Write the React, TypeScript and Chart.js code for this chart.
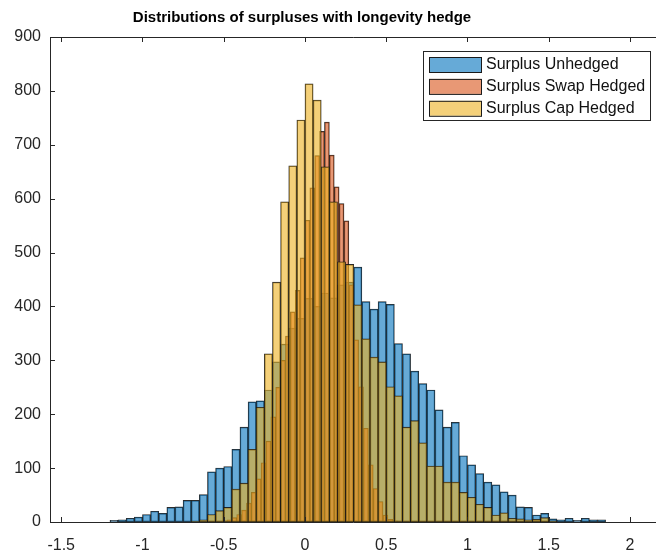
import { useEffect, useRef } from "react";
import { Chart, registerables } from "chart.js";

Chart.register(...registerables);

// Histogram bin layout (left edge of first bin, bin width)
const unhedgedStart = -1.2;
const unhedgedWidth = 0.05;
const swapStart = -0.54;
const swapWidth = 0.03;
const capStart = -0.7;
const capWidth = 0.05;

// Counts per bin
const unhedgedCounts = [
  3, 4, 7, 9, 14, 20, 16, 27, 28, 40, 40, 51, 93, 100, 103, 135, 176, 223, 225,
  245, 297, 330, 360, 378, 415, 400, 425, 416, 440, 445,
  473, 409, 395, 409, 404, 331, 312, 280, 257, 245, 208, 176, 185, 123, 106, 90,
  74, 69, 56, 50, 28, 27, 13, 16, 6, 4, 7, 3, 7, 4, 4,
];
const swapCounts = [
  1, 2, 4, 8, 14, 22, 35, 55, 80, 110, 150, 195, 250, 300, 345, 390, 430, 490,
  560, 620, 680, 725, 742, 681, 622, 591, 559, 440, 338, 251, 174, 106, 62, 38,
  13, 5, 2,
];
const capCounts = [
  1, 4, 14, 21, 27, 61, 72, 135, 213, 312, 445, 594, 661, 746, 813, 783, 659,
  594, 483, 478, 403, 340, 306, 297, 251, 234, 176, 188, 147, 104, 104, 74, 74,
  55, 46, 33, 27, 13, 17, 7, 6, 4, 5, 8, 2,
];

const xTicks = [-1.5, -1, -0.5, 0, 0.5, 1, 1.5, 2];
const yTicks = [0, 100, 200, 300, 400, 500, 600, 700, 800, 900];

const X_MIN = -1.569;
const X_MAX = 2.16;
const Y_MIN = 0;
const Y_MAX = 900;

const TITLE = "Distributions of surpluses with longevity hedge";
const FONT = "'Liberation Sans', Arial, Helvetica, sans-serif";
const AXIS_COLOR = "#262626";
const EDGE = "rgba(20,20,20,0.9)";

const SERIES = [
  { label: "Surplus Unhedged", rgb: "0,114,189" },
  { label: "Surplus Swap Hedged", rgb: "217,83,25" },
  { label: "Surplus Cap Hedged", rgb: "237,177,32" },
];

function binPoints(start: number, width: number, counts: number[]) {
  return counts.map((c, i) => ({
    x: Math.round((start + (i + 0.5) * width) * 10000) / 10000,
    y: c,
  }));
}

// Axes box with inward tick marks, title, and a boxed legend inside the plot
const framePlugin = {
  id: "frame",
  afterDatasetsDraw(chart: any) {
    const { ctx, chartArea } = chart;
    const { left, right, top, bottom } = chartArea;
    const xs = chart.scales.xU;
    const ys = chart.scales.y;
    ctx.save();
    ctx.strokeStyle = AXIS_COLOR;
    ctx.lineWidth = 1;
    ctx.beginPath();
    ctx.moveTo(left + 0.5, top + 0.5);
    ctx.lineTo(right + 2, top + 0.5);
    ctx.moveTo(left + 0.5, top);
    ctx.lineTo(left + 0.5, bottom + 0.5);
    ctx.lineTo(right + 2, bottom + 0.5);
    const tl = 5;
    xs.ticks.forEach((t: any) => {
      const px = Math.round(xs.getPixelForValue(t.value)) + 0.5;
      ctx.moveTo(px, bottom);
      ctx.lineTo(px, bottom - tl);
      ctx.moveTo(px, top);
      ctx.lineTo(px, top + tl);
    });
    ys.ticks.forEach((t: any) => {
      const py = Math.round(ys.getPixelForValue(t.value)) + 0.5;
      ctx.moveTo(left, py);
      ctx.lineTo(left + tl, py);
    });
    ctx.stroke();

    // title
    ctx.fillStyle = "#000000";
    ctx.font = `bold 15px ${FONT}`;
    ctx.textAlign = "center";
    ctx.textBaseline = "middle";
    ctx.fillText(TITLE, 302, 18);

    // legend
    const lx = 423;
    const ly = 51;
    const lw = 227;
    const lh = 69;
    ctx.fillStyle = "#ffffff";
    ctx.fillRect(lx, ly, lw, lh);
    ctx.strokeStyle = AXIS_COLOR;
    ctx.strokeRect(lx + 0.5, ly + 0.5, lw, lh);
    ctx.font = `16px ${FONT}`;
    ctx.textBaseline = "middle";
    ctx.textAlign = "left";
    chart.data.datasets.forEach((ds: any, i: number) => {
      const cy = ly + 13 + i * 21.9;
      ctx.fillStyle = ds.backgroundColor;
      ctx.fillRect(lx + 6, cy - 7, 52, 15);
      ctx.strokeStyle = "#1a1a1a";
      ctx.strokeRect(lx + 6.5, cy - 6.5, 52, 15);
      ctx.fillStyle = "#111111";
      ctx.fillText(ds.label, lx + 63, cy + 1);
    });
    ctx.restore();
  },
};

export default function App() {
  const ref = useRef<HTMLCanvasElement | null>(null);

  useEffect(() => {
    document.body.style.margin = "0";
    const canvas = ref.current;
    if (!canvas) return;

    const xScale = (display: boolean) => ({
      type: "linear" as const,
      min: X_MIN,
      max: X_MAX,
      offset: false,
      display,
      grid: { display: false, drawTicks: false, offset: false },
      border: { display: false },
      afterBuildTicks: (s: any) => {
        s.ticks = xTicks.map((v) => ({ value: v }));
      },
      afterFit: (s: any) => {
        s.height = display ? 28 : 0;
      },
      ticks: {
        padding: 14,
        color: AXIS_COLOR,
        font: { family: FONT, size: 16 },
        maxRotation: 0,
        autoSkip: false,
        callback: (v: any) => String(v),
      },
    });

    const barStyle = {
      borderColor: EDGE,
      borderWidth: 0.8,
      borderSkipped: false as const,
      barPercentage: 1,
      categoryPercentage: 1,
      grouped: false,
    };

    const chart = new Chart(canvas, {
      type: "bar",
      data: {
        datasets: [
          {
            ...barStyle,
            label: SERIES[0].label,
            data: binPoints(unhedgedStart, unhedgedWidth, unhedgedCounts),
            backgroundColor: `rgba(${SERIES[0].rgb},0.6)`,
            xAxisID: "xU",
            order: 3,
          },
          {
            ...barStyle,
            label: SERIES[1].label,
            data: binPoints(swapStart, swapWidth, swapCounts),
            backgroundColor: `rgba(${SERIES[1].rgb},0.6)`,
            xAxisID: "xS",
            order: 2,
          },
          {
            ...barStyle,
            label: SERIES[2].label,
            data: binPoints(capStart, capWidth, capCounts),
            backgroundColor: `rgba(${SERIES[2].rgb},0.6)`,
            xAxisID: "xC",
            order: 1,
          },
        ],
      },
      options: {
        animation: false,
        responsive: false,
        maintainAspectRatio: false,
        layout: { padding: { left: 0, right: 0, top: 37, bottom: 0 } },
        parsing: { xAxisKey: "x", yAxisKey: "y" },
        scales: {
          xU: xScale(true),
          xS: xScale(false),
          xC: xScale(false),
          y: {
            type: "linear",
            min: Y_MIN,
            max: Y_MAX,
            grid: { display: false, drawTicks: false },
            border: { display: false },
            afterBuildTicks: (s: any) => {
              s.ticks = yTicks.map((v) => ({ value: v }));
            },
            afterFit: (s: any) => {
              s.width = 50;
            },
            ticks: {
              padding: 9,
              color: AXIS_COLOR,
              font: { family: FONT, size: 16 },
              callback: (v: any) => String(v),
            },
          },
        },
        plugins: {
          legend: { display: false },
          tooltip: { enabled: false },
          title: { display: false },
        },
      } as any,
      plugins: [framePlugin],
    });

    return () => chart.destroy();
  }, []);

  return <canvas ref={ref} width={656} height={550} style={{ display: "block" }} />;
}
